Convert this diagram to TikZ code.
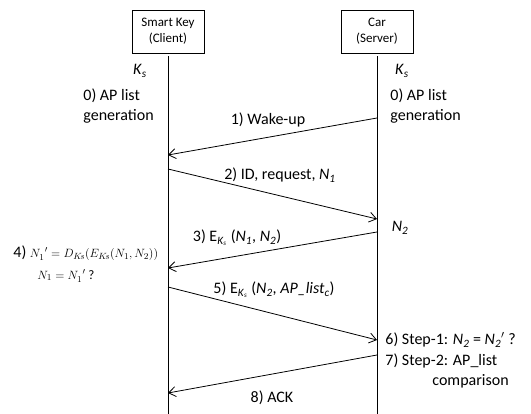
\documentclass[tikz,border=0pt]{standalone}
\usepackage{fontspec}
\setmainfont{Carlito}
\usetikzlibrary{arrows.meta}

\newcommand{\Ks}{\textit{K}\textsubscript{\textit{s}}}
\newcommand{\Nn}[1]{\textit{N}\textsubscript{\textit{#1}}}
\newcommand{\EKs}{E\textsubscript{\textit{K}\textsubscript{\scriptsize\textit{s}}}}
\newcommand{\formelgr}{\fontsize{13}{16}\selectfont}

\tikzset{
  actorbox/.style={draw, align=center, minimum width=72pt, minimum height=43pt,
    inner sep=2pt, font=\fontsize{13}{16}\selectfont},
  msg/.style={-{Straight Barb[length=7pt,width=10pt]}},
  lbl/.style={inner sep=0pt, font=\fontsize{16}{20}\selectfont},
}

\begin{document}
\begin{tikzpicture}[x=1pt, y=-1pt, line width=0.8pt]

  \useasboundingbox (0,0) rectangle (531,414);

  % Teilnehmer
  \node[actorbox] (key) at (168,31.5) {Smart Key\\(Client)};
  \node[actorbox] (car) at (377,31.5) {Car\\(Server)};

  % Lebenslinien
  \coordinate (keyend) at (168,414);
  \coordinate (carend) at (377,414);
  \draw[shorten <=3pt] (key.south) -- (keyend);
  \draw[shorten <=3pt] (car.south) -- (carend);

  % Punkte auf den Lebenslinien
  \coordinate (c1) at (377,118);
  \coordinate (k1) at (168,155);
  \coordinate (k2) at (168,169);
  \coordinate (c2) at (377,219);
  \coordinate (c3) at (377,232);
  \coordinate (k3) at (168,268);
  \coordinate (k5) at (168,287);
  \coordinate (c5) at (377,340);
  \coordinate (c8) at (377,355);
  \coordinate (k8) at (168,393);

  % Nachrichten
  \draw[msg] (c1) -- (k1);
  \draw[msg] (k2) -- (c2);
  \draw[msg] (c3) -- (k3);
  \draw[msg] (k5) -- (c5);
  \draw[msg] (c8) -- (k8);

  % Schluessel
  \node[lbl] (ksl) at (140,71) {\Ks};
  \node[lbl] (ksr) at (402,71) {\Ks};

  % Vorbereitung
  \node[lbl, align=left, anchor=west] (apl) at (83,106) {0) AP list\\generation};
  \node[lbl, align=left, anchor=west] (apr) at (390,106) {0) AP list\\generation};

  % Beschriftungen der Nachrichten
  \node[lbl] (m1) at (268,120) {1) Wake-up};
  \node[lbl] (m2) at (280,175) {2) ID, request, \Nn{1}};
  \node[lbl] (n2) at (400,228) {\Nn{2}};
  \node[lbl] (m3) at (237,238) {3) \EKs\ (\Nn{1}, \Nn{2})};
  \node[lbl] (m5) at (274,290) {5) \EKs\ (\Nn{2}, \textit{AP\_list}\textsubscript{\textit{c}})};
  \node[lbl] (m8) at (272,398) {8) ACK};

  % Pruefung beim Client
  \node[lbl, anchor=west] (chk1) at (13,253)
    {4) {\formelgr$N_1^{\;\,\prime}=D_{K\!s}(E_{K\!s}(N_1,N_2))$}};
  \node[lbl, anchor=west] (chk2) at (37,276) {\formelgr$N_1=N_1^{\;\,\prime}$ ?};

  % Pruefung beim Server
  \node[lbl, anchor=west] (s1) at (385,340) {6) Step-1: \Nn{2} = \Nn{2}$'$ ?};
  \node[lbl, anchor=west] (s2) at (385,361) {7) Step-2: AP\_list};
  \node[lbl, anchor=west] (s3) at (432,381) {comparison};

\end{tikzpicture}
\end{document}
